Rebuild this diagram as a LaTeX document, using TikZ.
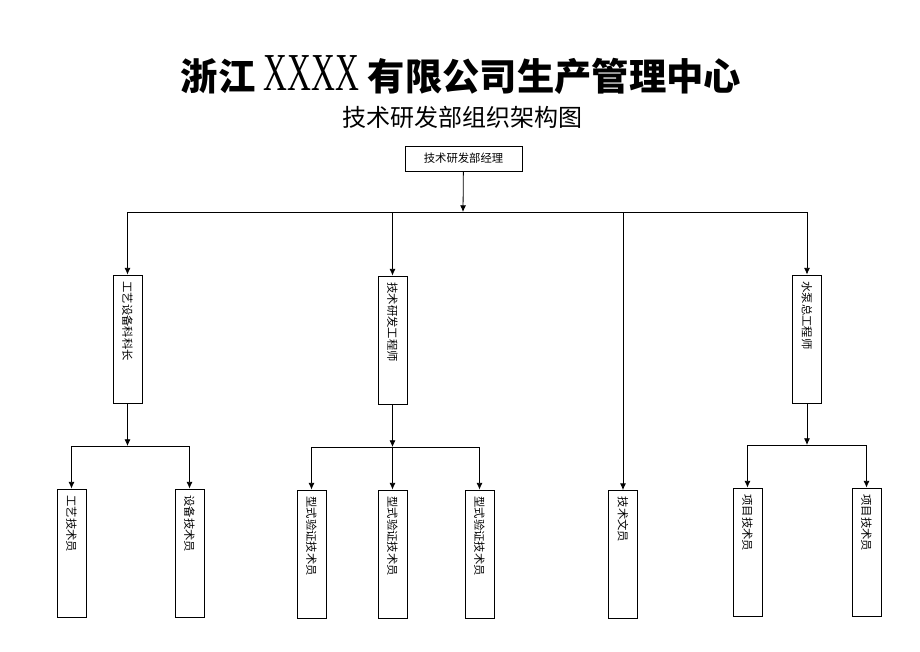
\documentclass[tikz,border=0pt]{standalone}
\usepackage{fontspec}
\setmainfont{Noto Sans CJK SC}
\newfontfamily\latinserif{Liberation Serif}
\usetikzlibrary{arrows.meta}
\tikzset{
  hbox/.style={draw, line width=0.7pt, minimum width=87.75pt, minimum height=18.75pt, inner sep=0pt, font=\fontsize{8.5}{10}\selectfont},
  vbox/.style={draw, line width=0.7pt, minimum width=21.75pt, minimum height=96pt, inner sep=0pt},
  vtext/.style={rotate=-90, anchor=west, inner sep=0pt, font=\fontsize{8.5}{10}\selectfont},
  link/.style={line width=0.6pt},
  arr/.style={link, -{Latex[length=5pt,width=4.5pt]}}
}
\begin{document}
\begin{tikzpicture}[x=0.75pt,y=-0.75pt]
\useasboundingbox (0,0) rectangle (920,651);
% titles
\node (title) at (461,75) {\fontsize{28}{32}\selectfont\bfseries 浙江 {\latinserif\mdseries\scalebox{0.62}[1]{\fontsize{40}{44}\selectfont XXXX}} 有限公司生产管理中心};
\node (subtitle) at (462,117) {\fontsize{18}{20}\selectfont 技术研发部组织架构图};
% head
\node[hbox] (mgr) at (463.5,158.5) {技术研发部经理};
\coordinate (bar) at (463,212);
% second level
\node[vbox] (gy) at (127.5,339) {};
\node[vbox] (yf) at (392.5,340) {};
\node[vbox] (sb) at (807,339) {};
% staff
\node[vbox] (gy1) at (71.5,553) {};
\node[vbox] (gy2) at (189.5,553) {};
\node[vbox] (yf1) at (311.5,554) {};
\node[vbox] (yf2) at (392.5,554) {};
\node[vbox] (yf3) at (479.5,554) {};
\node[vbox] (wy) at (623,554.5) {};
\node[vbox] (sb1) at (747.5,552) {};
\node[vbox] (sb2) at (866.5,552) {};
% labels
\node[vtext] (gy-t) at ([yshift=-5pt]gy.north) {工艺设备科科长};
\node[vtext] (yf-t) at ([yshift=-5pt]yf.north) {技术研发工程师};
\node[vtext] (sb-t) at ([yshift=-5pt]sb.north) {水泵总工程师};
\node[vtext] (gy1-t) at ([yshift=-5pt]gy1.north) {工艺技术员};
\node[vtext] (gy2-t) at ([yshift=-5pt]gy2.north) {设备技术员};
\node[vtext] (yf1-t) at ([yshift=-5pt]yf1.north) {型式验证技术员};
\node[vtext] (yf2-t) at ([yshift=-5pt]yf2.north) {型式验证技术员};
\node[vtext] (yf3-t) at ([yshift=-5pt]yf3.north) {型式验证技术员};
\node[vtext] (wy-t) at ([yshift=-5pt]wy.north) {技术文员};
\node[vtext] (sb1-t) at ([yshift=-5pt]sb1.north) {项目技术员};
\node[vtext] (sb2-t) at ([yshift=-5pt]sb2.north) {项目技术员};
% connectors
\draw[arr] (mgr) -- (bar);
\draw[link] (gy.north |- bar) -- (sb.north |- bar);
\foreach \n in {gy,yf,wy,sb}
  \draw[arr] (\n.north |- bar) -- (\n.north);
\coordinate (gybar) at (127.5,446);
\coordinate (yfbar) at (392.5,447);
\coordinate (sbbar) at (807,445);
\draw[arr] (gy) -- (gybar);
\draw[arr] (yf) -- (yfbar);
\draw[arr] (sb) -- (sbbar);
\draw[link] (gy1.north |- gybar) -- (gy2.north |- gybar);
\draw[link] (yf1.north |- yfbar) -- (yf3.north |- yfbar);
\draw[link] (sb1.north |- sbbar) -- (sb2.north |- sbbar);
\foreach \n in {gy1,gy2}
  \draw[arr] (\n.north |- gybar) -- (\n.north);
\foreach \n in {yf1,yf2,yf3}
  \draw[arr] (\n.north |- yfbar) -- (\n.north);
\foreach \n in {sb1,sb2}
  \draw[arr] (\n.north |- sbbar) -- (\n.north);
\end{tikzpicture}
\end{document}
